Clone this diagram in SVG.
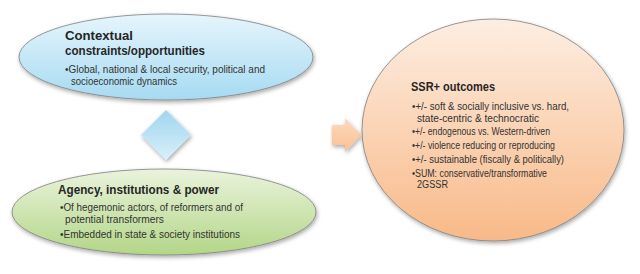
<svg xmlns="http://www.w3.org/2000/svg" width="640" height="274" viewBox="0 0 640 274">
<defs>
<linearGradient id="gBlue" x1="0" y1="0" x2="0" y2="1"><stop offset="0" stop-color="#e6f5fc"/><stop offset="1" stop-color="#a6daf2"/></linearGradient>
<linearGradient id="gGreen" x1="0" y1="0" x2="0" y2="1"><stop offset="0" stop-color="#eaf3dc"/><stop offset="1" stop-color="#b3d688"/></linearGradient>
<linearGradient id="gOrange" x1="0" y1="0" x2="0" y2="1"><stop offset="0" stop-color="#fdeee2"/><stop offset="1" stop-color="#f8b988"/></linearGradient>
<linearGradient id="gDiamond" x1="0" y1="0" x2="0" y2="1"><stop offset="0" stop-color="#9fd6ef"/><stop offset="1" stop-color="#d9f0fa"/></linearGradient>
<linearGradient id="gArrow" x1="0" y1="0" x2="0" y2="1"><stop offset="0" stop-color="#fdd9bd"/><stop offset="1" stop-color="#f9c193"/></linearGradient>
<filter id="sh" x="-10%" y="-10%" width="125%" height="130%"><feGaussianBlur in="SourceAlpha" stdDeviation="2"/><feOffset dx="1" dy="2"/><feComponentTransfer><feFuncA type="linear" slope="0.35"/></feComponentTransfer><feMerge><feMergeNode/><feMergeNode in="SourceGraphic"/></feMerge></filter>
</defs>
<style>
.t{font-family:"Liberation Sans",Arial,sans-serif;font-weight:bold;font-size:13.5px;fill:#262626}
.b{font-family:"Liberation Sans",Arial,sans-serif;font-size:10px;fill:#333}
.shape{stroke:#7f7f7f;stroke-width:0.8}
</style>
<g id="connectors">
<polygon points="166,110 191,135 166,160 141,135" fill="url(#gDiamond)" filter="url(#sh)"/>
<polygon points="332,125 345,125 345,118 361,135 345,152 345,145 332,145" fill="url(#gArrow)" filter="url(#sh)"/>
</g>
<g id="context">
<ellipse class="shape" cx="166" cy="57" rx="147" ry="43" fill="url(#gBlue)" filter="url(#sh)"/>
<text class="t" x="65" y="40" textLength="68" lengthAdjust="spacingAndGlyphs">Contextual</text>
<text class="t" x="65" y="55" textLength="140" lengthAdjust="spacingAndGlyphs">constraints/opportunities</text>
<text class="b" x="65" y="73" textLength="200" lengthAdjust="spacingAndGlyphs">•Global, national &amp; local security, political and</text>
<text class="b" x="71" y="85" textLength="106" lengthAdjust="spacingAndGlyphs">socioeconomic dynamics</text>
</g>
<g id="agency">
<ellipse class="shape" cx="164" cy="212" rx="152" ry="43" fill="url(#gGreen)" filter="url(#sh)"/>
<text class="t" x="58" y="194" textLength="161" lengthAdjust="spacingAndGlyphs">Agency, institutions &amp; power</text>
<text class="b" x="60" y="211" textLength="183" lengthAdjust="spacingAndGlyphs">•Of hegemonic actors, of reformers and of</text>
<text class="b" x="65" y="223" textLength="99" lengthAdjust="spacingAndGlyphs">potential transformers</text>
<text class="b" x="60" y="238" textLength="180" lengthAdjust="spacingAndGlyphs">•Embedded in state &amp; society institutions</text>
</g>
<g id="outcomes">
<ellipse class="shape" cx="493" cy="130" rx="131" ry="111" fill="url(#gOrange)" filter="url(#sh)"/>
<text class="t" x="411" y="91" textLength="84" lengthAdjust="spacingAndGlyphs">SSR+ outcomes</text>
<text class="b" x="412" y="110" textLength="157" lengthAdjust="spacingAndGlyphs">•+/- soft &amp; socially inclusive vs. hard,</text>
<text class="b" x="417" y="122" textLength="122" lengthAdjust="spacingAndGlyphs">state-centric &amp; technocratic</text>
<text class="b" x="412" y="135" textLength="138" lengthAdjust="spacingAndGlyphs">•+/- endogenous vs. Western-driven</text>
<text class="b" x="412" y="149" textLength="143" lengthAdjust="spacingAndGlyphs">•+/- violence reducing or reproducing</text>
<text class="b" x="412" y="163" textLength="152" lengthAdjust="spacingAndGlyphs">•+/- sustainable (fiscally &amp; politically)</text>
<text class="b" x="412" y="177" textLength="135" lengthAdjust="spacingAndGlyphs">•SUM: conservative/transformative</text>
<text class="b" x="417" y="188" textLength="31" lengthAdjust="spacingAndGlyphs">2GSSR</text>
</g>
</svg>
